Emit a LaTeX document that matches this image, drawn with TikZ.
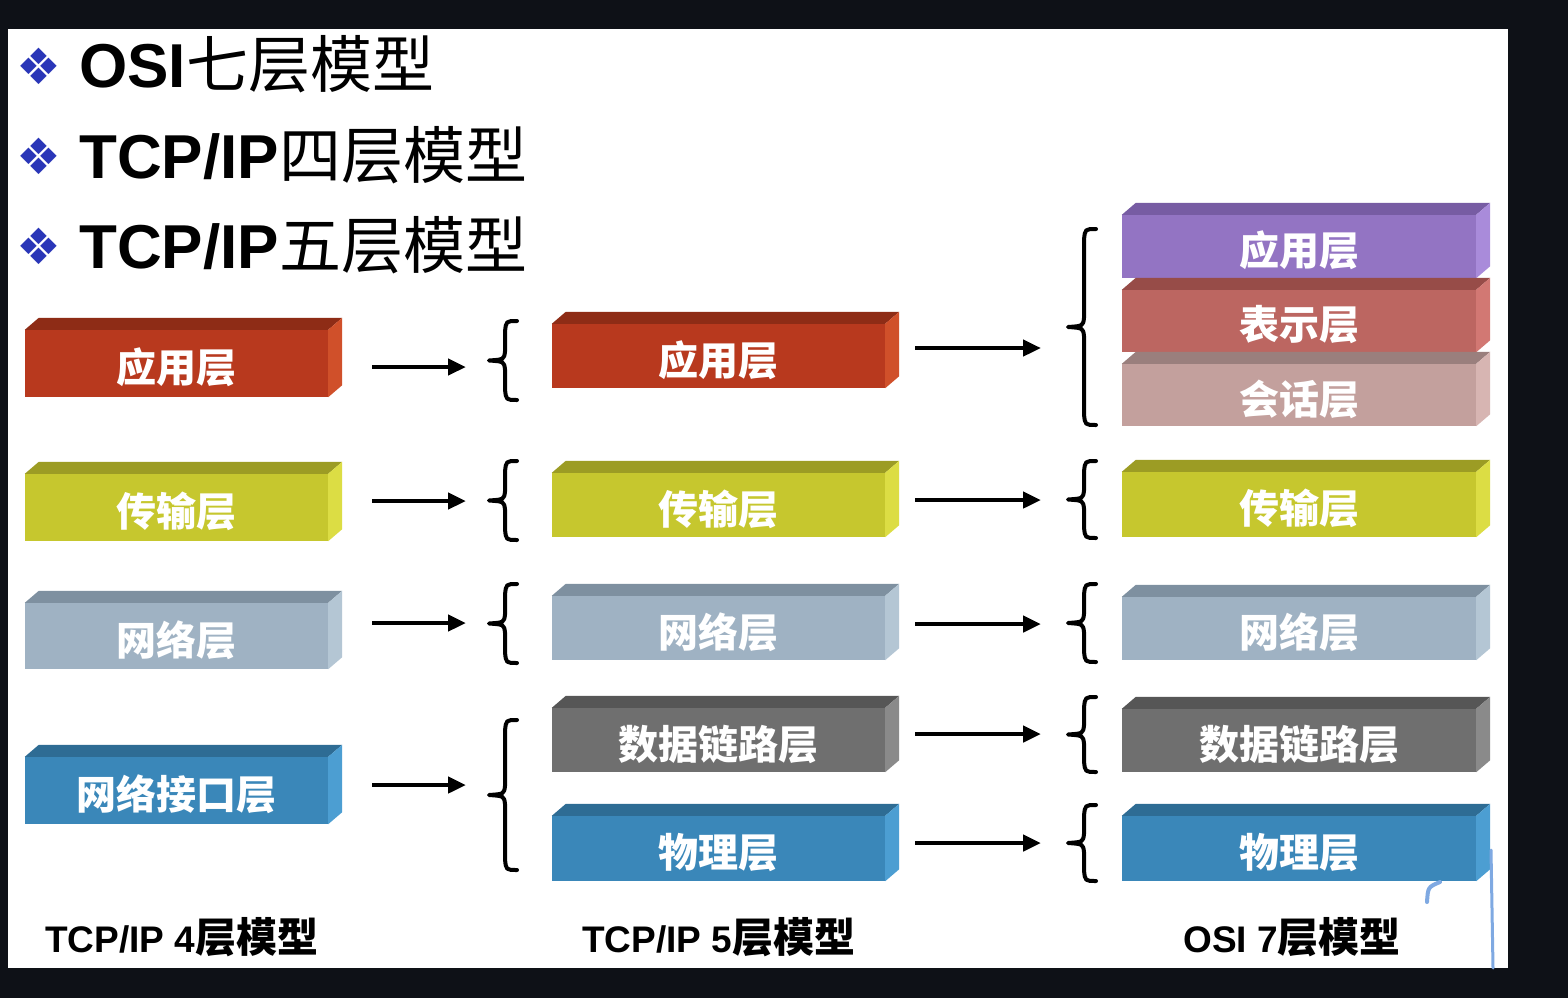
\documentclass[tikz,border=0pt]{standalone}
\usepackage{fontspec}
\setmainfont{Liberation Sans}
\newfontfamily\cjk{Noto Sans CJK SC}
\newfontfamily\sym{DejaVu Sans}
\usetikzlibrary{arrows.meta,calc}
\definecolor{bg}{HTML}{0E1117}
\definecolor{bullet}{HTML}{2A36B8}
\definecolor{scrib}{HTML}{7FA9E2}
\definecolor{rdF}{HTML}{B8391E}\definecolor{rdT}{HTML}{8E2C16}\definecolor{rdS}{HTML}{D0502A}
\definecolor{ylF}{HTML}{C6C72E}\definecolor{ylT}{HTML}{9C9C24}\definecolor{ylS}{HTML}{DCDD44}
\definecolor{ngF}{HTML}{9FB2C3}\definecolor{ngT}{HTML}{7E90A0}\definecolor{ngS}{HTML}{B4C6D4}
\definecolor{blF}{HTML}{3A87B9}\definecolor{blT}{HTML}{2E6C94}\definecolor{blS}{HTML}{4C9ED2}
\definecolor{gyF}{HTML}{6F6F6F}\definecolor{gyT}{HTML}{565656}\definecolor{gyS}{HTML}{8A8A8A}
\definecolor{puF}{HTML}{9374C3}\definecolor{puT}{HTML}{775CA3}\definecolor{puS}{HTML}{A98BDA}
\definecolor{roF}{HTML}{BC6661}\definecolor{roT}{HTML}{974C48}\definecolor{roS}{HTML}{D27873}
\definecolor{piF}{HTML}{C3A09D}\definecolor{piT}{HTML}{9A7F7D}\definecolor{piS}{HTML}{D7B5B2}
\tikzset{
  layerface/.style={inner sep=0pt},
  layertext/.style={inner sep=0pt, text=white, font=\cjk\bfseries\fontsize{40}{40}\selectfont},
  arr/.style={line width=4.5pt, -{Triangle[length=18pt,width=16pt]}},
  bracepath/.style={line width=4pt, line cap=round, line join=round},
  heading/.style={anchor=base west, inner sep=0pt, font=\bfseries\fontsize{62}{62}\selectfont},
  bul/.style={inner sep=0pt, text=bullet, font=\sym\fontsize{50}{50}\selectfont},
  caption/.style={anchor=base west, inner sep=0pt, font=\bfseries\fontsize{37}{37}\selectfont},
}
\newcommand\capcjk[1]{{\cjk\bfseries\fontsize{41}{41}\selectfont #1}}
% name, x centre, y centre, width, height, colour prefix, label
\newcommand\layerbox[7]{%
  \node[layerface, fill=#6F, minimum width=#4, minimum height=#5] (#1) at (#2,#3) {};
  \fill[#6T] (#1.north west) -- ++(14,-12) -- ([shift={(14,-12)}]#1.north east) -- (#1.north east) -- cycle;
  \fill[#6S] (#1.north east) -- ++(14,-12) -- ([shift={(14,-12)}]#1.south east) -- (#1.south east) -- cycle;
  \node[layertext] (#1t) at ([yshift=-4pt]#1.center) {#7};
}
% left curly brace: x of hook ends, y top, y bottom
\newcommand\cbrace[3]{%
  \draw[bracepath] (#1,#2) .. controls (#1-11,#2) .. (#1-12,#2+11)
    -- (#1-12,{(#2+#3)/2-9}) .. controls (#1-13,{(#2+#3)/2-1}) .. (#1-28,{(#2+#3)/2})
    .. controls (#1-13,{(#2+#3)/2+1}) .. (#1-12,{(#2+#3)/2+9})
    -- (#1-12,#3-11) .. controls (#1-11,#3) .. (#1,#3);
}
\begin{document}
\begin{tikzpicture}[x=1pt,y=-1pt]
\useasboundingbox (0,0) rectangle (1568,998);
\fill[bg] (0,0) rectangle (1568,998);
\fill[white] (8,29) rectangle (1508,968);

% headings
\node[bul] (b1) at (39,66) {❖};
\node[bul] (b2) at (39,156) {❖};
\node[bul] (b3) at (39,246) {❖};
\node[heading] (h1) at (79,88) {OSI{\cjk\mdseries 七层模型}};
\node[heading] (h2) at (79,178) {TCP/IP{\cjk\mdseries 四层模型}};
\node[heading] (h3) at (79,268) {TCP/IP{\cjk\mdseries 五层模型}};

% column 1: TCP/IP 4
\layerbox{a1}{176.5}{363.5}{303}{67}{rd}{应用层}
\layerbox{a2}{176.5}{507.5}{303}{67}{yl}{传输层}
\layerbox{a3}{176.5}{636}{303}{66}{ng}{网络层}
\layerbox{a4}{176.5}{790.5}{303}{67}{bl}{网络接口层}

% column 2: TCP/IP 5
\layerbox{c1}{718.5}{356}{333}{64}{rd}{应用层}
\layerbox{c2}{718.5}{505}{333}{64}{yl}{传输层}
\layerbox{c3}{718.5}{628}{333}{64}{ng}{网络层}
\layerbox{c4}{718.5}{740}{333}{64}{gy}{数据链路层}
\layerbox{c5}{718.5}{848.5}{333}{65}{bl}{物理层}

% column 3: OSI 7
\layerbox{d1}{1299}{246.5}{354}{63}{pu}{应用层}
\layerbox{d2}{1299}{321}{354}{62}{ro}{表示层}
\layerbox{d3}{1299}{395}{354}{62}{pi}{会话层}
\layerbox{d4}{1299}{504.5}{354}{65}{yl}{传输层}
\layerbox{d5}{1299}{628.5}{354}{63}{ng}{网络层}
\layerbox{d6}{1299}{740.5}{354}{63}{gy}{数据链路层}
\layerbox{d7}{1299}{848.5}{354}{65}{bl}{物理层}

% arrows column 1 -> column 2
\coordinate (p1s) at (372,367); \coordinate (p1e) at (466,367);
\coordinate (p2s) at (372,501); \coordinate (p2e) at (466,501);
\coordinate (p3s) at (372,623); \coordinate (p3e) at (466,623);
\coordinate (p4s) at (372,785); \coordinate (p4e) at (466,785);
\draw[arr] (p1s) -- (p1e);
\draw[arr] (p2s) -- (p2e);
\draw[arr] (p3s) -- (p3e);
\draw[arr] (p4s) -- (p4e);

% arrows column 2 -> column 3
\coordinate (q1s) at (915,348); \coordinate (q1e) at (1041,348);
\coordinate (q2s) at (915,500); \coordinate (q2e) at (1041,500);
\coordinate (q3s) at (915,624); \coordinate (q3e) at (1041,624);
\coordinate (q4s) at (915,734); \coordinate (q4e) at (1041,734);
\coordinate (q5s) at (915,843); \coordinate (q5e) at (1041,843);
\draw[arr] (q1s) -- (q1e);
\draw[arr] (q2s) -- (q2e);
\draw[arr] (q3s) -- (q3e);
\draw[arr] (q4s) -- (q4e);
\draw[arr] (q5s) -- (q5e);

% braces column 2
\cbrace{517}{321}{400}
\cbrace{517}{461}{540}
\cbrace{517}{584}{663}
\cbrace{517}{720}{870}

% braces column 3
\cbrace{1096}{229}{425}
\cbrace{1096}{461}{538}
\cbrace{1096}{584}{662}
\cbrace{1096}{697}{772}
\cbrace{1096}{805}{881}

% captions
\node[caption] (t1) at (45,952) {TCP/IP 4\capcjk{层模型}};
\node[caption] (t2) at (582,952) {TCP/IP 5\capcjk{层模型}};
\node[caption] (t3) at (1183,952) {OSI 7\capcjk{层模型}};

% pen marks
\draw[scrib, line width=3pt, line cap=round] (1491,850) -- (1493,968);
\draw[scrib, line width=4pt, line cap=round] (1440,882) .. controls (1428,887) .. (1427,902);
\end{tikzpicture}
\end{document}
